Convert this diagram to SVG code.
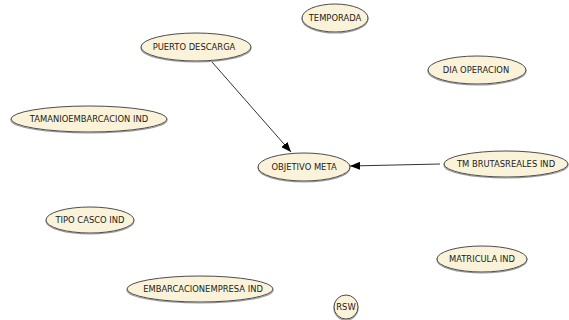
<svg xmlns="http://www.w3.org/2000/svg" width="569" height="320" viewBox="0 0 569 320">
  <style>
    .node ellipse.body { fill: #fbf3d9; stroke: #4d4d4d; stroke-width: 1; }
    .node ellipse.shadow { fill: none; stroke: #9a9a9a; stroke-width: 1.2; }
    .node text { font-family: Tahoma, "DejaVu Sans", sans-serif; font-size: 8.4px; fill: #1a1a1a; text-anchor: middle; }
    .edge { stroke: #333; stroke-width: 1; fill: none; marker-end: url(#arrow); }
  </style>
  <defs>
    <marker id="arrow" viewBox="0 0 10 8" refX="10" refY="4" markerWidth="10" markerHeight="8" markerUnits="userSpaceOnUse" orient="auto">
      <path d="M0,0 L10,4 L0,8 Z" fill="#000"/>
    </marker>
  </defs>
  <rect width="569" height="320" fill="#fff"/>

  <g id="connectors">
    <line class="edge" x1="212" y1="62" x2="291" y2="152"/>
    <line class="edge" x1="440" y1="164" x2="350" y2="166"/>
  </g>

  <g id="temporada" class="node">
    <ellipse class="shadow" cx="335" cy="19" rx="33" ry="14"/>
    <ellipse class="body" cx="335" cy="18" rx="33" ry="14"/>
    <text x="335" y="21">TEMPORADA</text>
  </g>
  <g id="puerto_descarga" class="node">
    <ellipse class="shadow" cx="196" cy="48" rx="55" ry="14"/>
    <ellipse class="body" cx="196" cy="47" rx="55" ry="14"/>
    <text x="194" y="50">PUERTO DESCARGA</text>
  </g>
  <g id="dia_operacion" class="node">
    <ellipse class="shadow" cx="477" cy="71" rx="49" ry="14"/>
    <ellipse class="body" cx="477" cy="70" rx="49" ry="14"/>
    <text x="476" y="73">DIA OPERACION</text>
  </g>
  <g id="tamanioembarcacion_ind" class="node">
    <ellipse class="shadow" cx="89" cy="120" rx="78" ry="13"/>
    <ellipse class="body" cx="89" cy="119" rx="78" ry="13"/>
    <text x="89" y="122">TAMANIOEMBARCACION IND</text>
  </g>
  <g id="objetivo_meta" class="node">
    <ellipse class="shadow" cx="304" cy="168" rx="46" ry="14"/>
    <ellipse class="body" cx="304" cy="167" rx="46" ry="14"/>
    <text x="304" y="170">OBJETIVO META</text>
  </g>
  <g id="tm_brutasreales_ind" class="node">
    <ellipse class="shadow" cx="506" cy="165" rx="62" ry="13"/>
    <ellipse class="body" cx="506" cy="164" rx="62" ry="13"/>
    <text x="506" y="167">TM BRUTASREALES IND</text>
  </g>
  <g id="tipo_casco_ind" class="node">
    <ellipse class="shadow" cx="90" cy="221" rx="44" ry="13"/>
    <ellipse class="body" cx="90" cy="220" rx="44" ry="13"/>
    <text x="90" y="223">TIPO CASCO IND</text>
  </g>
  <g id="matricula_ind" class="node">
    <ellipse class="shadow" cx="482" cy="260" rx="45" ry="13"/>
    <ellipse class="body" cx="482" cy="259" rx="45" ry="13"/>
    <text x="482" y="262">MATRICULA IND</text>
  </g>
  <g id="embarcacionempresa_ind" class="node">
    <ellipse class="shadow" cx="200" cy="290" rx="73" ry="13"/>
    <ellipse class="body" cx="200" cy="289" rx="73" ry="13"/>
    <text x="203" y="292">EMBARCACIONEMPRESA IND</text>
  </g>
  <g id="rsw" class="node">
    <ellipse class="shadow" cx="346" cy="308" rx="12" ry="12"/>
    <ellipse class="body" cx="346" cy="307" rx="12" ry="12"/>
    <text x="346" y="310">RSW</text>
  </g>
</svg>
